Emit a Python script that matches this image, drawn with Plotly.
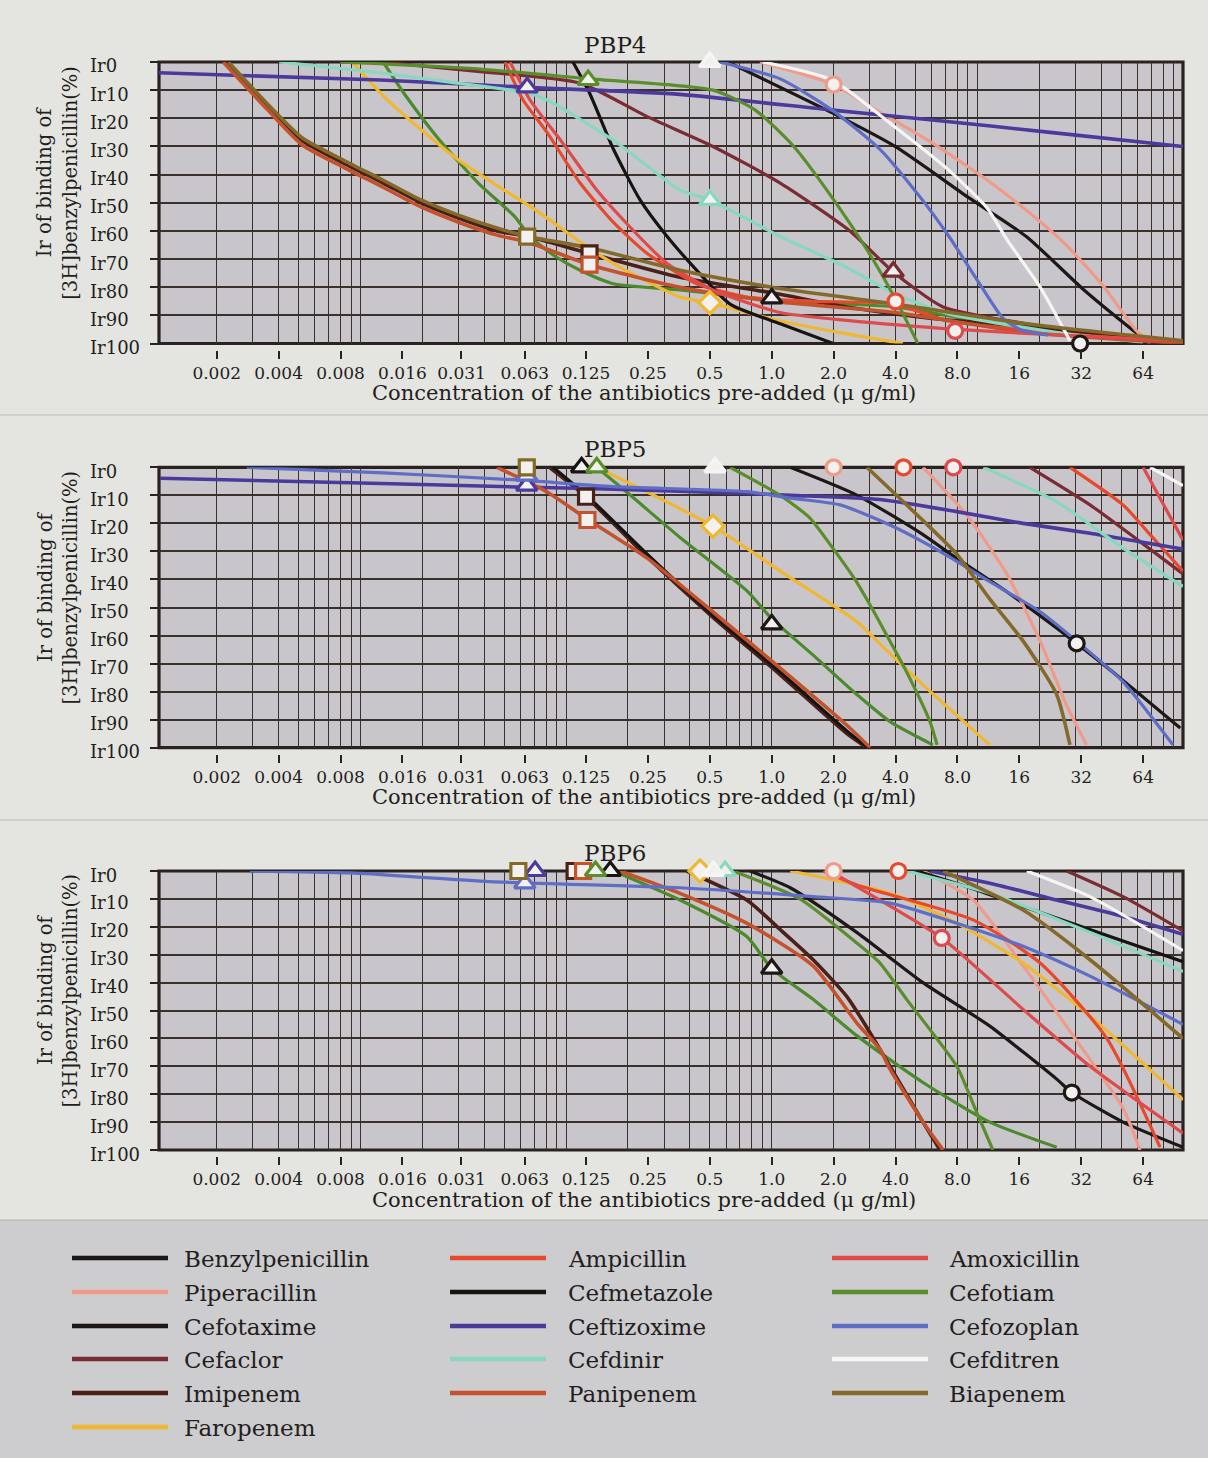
import math
import plotly.graph_objects as go

FIG_W, FIG_H = 1208, 1458
FONT = "DejaVu Serif"
TEXT_COLOR = "#231e1d"
GRID_COLOR = "#3a302c"

# ---------------- categories / styling keys ----------------
LEGEND_COL1 = ["Benzylpenicillin", "Piperacillin", "Cefotaxime", "Cefaclor", "Imipenem", "Faropenem"]
LEGEND_COL2 = ["Ampicillin", "Cefmetazole", "Ceftizoxime", "Cefdinir", "Panipenem"]
LEGEND_COL3 = ["Amoxicillin", "Cefotiam", "Cefozoplan", "Cefditren", "Biapenem"]

COLORS = {
    "Benzylpenicillin": "#1d1817", "Piperacillin": "#f09a8a", "Cefotaxime": "#1d1817",
    "Cefaclor": "#7a2c32", "Imipenem": "#4a2119", "Faropenem": "#f0b830",
    "Ampicillin": "#e8482c", "Cefmetazole": "#161410", "Ceftizoxime": "#4b3a9c",
    "Cefdinir": "#88d8c0", "Panipenem": "#c4522c", "Amoxicillin": "#df4a4c",
    "Cefotiam": "#5a8d2c", "Cefozoplan": "#5e6dc6", "Cefditren": "#f5f5f3",
    "Biapenem": "#846a2a",
}
# colour of the printed curve where it differs from the legend swatch
CURVE_COLORS = dict(COLORS, Cefotaxime="#4d8a2e")

SYMBOLS = {
    "Benzylpenicillin": "circle", "Piperacillin": "circle", "Ampicillin": "circle", "Amoxicillin": "circle",
    "Cefotaxime": "triangle-up", "Cefaclor": "triangle-up", "Cefmetazole": "triangle-up",
    "Ceftizoxime": "triangle-up", "Cefdinir": "triangle-up", "Cefotiam": "triangle-up",
    "Cefozoplan": "triangle-up", "Cefditren": "triangle-up",
    "Imipenem": "square", "Panipenem": "square", "Biapenem": "square", "Faropenem": "diamond",
}
SYMBOL_SIZE = {"circle": 15, "triangle-up": 18, "square": 15, "diamond": 17}

X_TICK_VALUES = [0.002, 0.004, 0.008, 0.016, 0.031, 0.063, 0.125, 0.25, 0.5, 1.0, 2.0, 4.0, 8.0, 16, 32, 64]
X_TICK_LABELS = ["0.002", "0.004", "0.008", "0.016", "0.031", "0.063", "0.125", "0.25", "0.5",
                 "1.0", "2.0", "4.0", "8.0", "16", "32", "64"]
Y_TICK_VALUES = [0, 10, 20, 30, 40, 50, 60, 70, 80, 90, 100]
Y_TICK_LABELS = ["Ir0", "Ir10", "Ir20", "Ir30", "Ir40", "Ir50", "Ir60", "Ir70", "Ir80", "Ir90", "Ir100"]
X_RANGE = [0.001048, 100.0]

# ---------------- PBP4 ----------------
PBP4_CONC = {
    "Benzylpenicillin": [0.613, 1.96, 3.98, 9.0, 17.3, 33.0, 61.1, 69.2],
    "Piperacillin": [0.877, 2.0, 3.04, 5.82, 11.2, 17.3, 26.7, 41.4, 58.5, 69.2],
    "Cefotaxime": [0.0129, 0.0166, 0.0244, 0.0374, 0.0564, 0.0668, 0.0884, 0.117, 0.170, 0.358, 1.10, 3.98, 17.3, 100],
    "Cefaclor": [0.0125, 0.0382, 0.117, 0.248, 0.518, 1.10, 2.40, 3.89, 6.81, 17.3, 61.1, 100],
    "Imipenem": [0.00221, 0.00354, 0.00522, 0.00833, 0.0129, 0.0197, 0.0302, 0.0461, 0.0652, 0.130, 0.358, 1.0, 2.32, 5.88, 17.3, 97.9],
    "Faropenem": [0.00911, 0.0129, 0.0197, 0.0302, 0.0464, 0.0713, 0.120, 0.170, 0.358, 0.513, 1.10, 2.32, 4.34],
    "Ampicillin": [0.0505, 0.0618, 0.0808, 0.117, 0.170, 0.248, 0.432, 0.758, 1.59, 3.89, 7.28, 26.7, 100],
    "Cefmetazole": [0.108, 0.130, 0.170, 0.229, 0.310, 0.432, 0.627, 1.10, 1.99],
    "Ceftizoxime": [0.00102, 0.0125, 0.0647, 0.358, 1.92, 5.88, 22.6, 100],
    "Cefdinir": [0.00403, 0.0129, 0.0302, 0.0652, 0.0808, 0.170, 0.358, 0.501, 1.10, 2.32, 3.89, 7.28, 26.7, 64],
    "Panipenem": [0.00215, 0.00354, 0.00522, 0.00833, 0.0129, 0.0197, 0.0302, 0.0461, 0.0652, 0.130, 0.358, 1.0, 3.98, 17.3, 100],
    "Amoxicillin": [0.0534, 0.0668, 0.0967, 0.141, 0.205, 0.310, 0.518, 1.10, 2.32, 7.97, 25.2, 100],
    "Cefotiam": [0.00797, 0.0382, 0.130, 0.518, 0.829, 1.28, 1.96, 3.04, 3.98, 5.14],
    "Cefozoplan": [0.56, 1.10, 1.96, 3.36, 5.27, 7.28, 10.3, 13.3, 16.1, 22.0],
    "Cefditren": [0.907, 1.96, 3.96, 7.28, 11.2, 13.9, 20.2, 28.2],
    "Biapenem": [0.00228, 0.00354, 0.00522, 0.00833, 0.0129, 0.0197, 0.0302, 0.0461, 0.0652, 0.130, 0.358, 1.0, 3.98, 17.3, 100],
}
PBP4_IR = {
    "Benzylpenicillin": [0, 18, 30, 48, 62, 81, 97, 100],
    "Piperacillin": [0, 8, 16, 28, 42, 52.7, 64.6, 80, 95, 100],
    "Cefotaxime": [0, 12, 28, 43, 55, 62, 69, 74, 78.8, 81, 84.8, 87, 95, 100],
    "Cefaclor": [0, 3.4, 7.5, 19.4, 30, 43, 60, 74.5, 87, 93, 99, 100],
    "Imipenem": [0, 16, 28, 36, 43, 50, 55.5, 60, 62, 68, 76.5, 82, 87, 91, 94, 99.6],
    "Faropenem": [0, 12, 24, 35, 44, 52.6, 64.5, 71.6, 83.5, 85.8, 92, 96.6, 100],
    "Ampicillin": [0, 13.5, 25, 43, 57, 68, 78.8, 83.5, 85, 85.9, 92, 96.5, 100],
    "Cefmetazole": [0, 11, 31, 49, 62, 74, 86, 93, 100],
    "Ceftizoxime": [3.8, 6.4, 9, 11.5, 17, 20.5, 25, 30],
    "Cefdinir": [0, 4, 7.6, 11, 13.5, 27.8, 45.5, 49, 62, 73, 82, 89.5, 96.5, 99.5],
    "Panipenem": [0, 17, 29.5, 37.5, 44.5, 51.5, 57, 61.5, 64, 72, 80, 85, 89, 96, 100],
    "Amoxicillin": [0, 13.5, 29, 45.5, 58.7, 71.6, 81, 89, 91.8, 95, 97, 99],
    "Cefotiam": [0, 2.5, 6, 10, 17, 30, 48, 69, 84, 100],
    "Cefozoplan": [0, 6, 17, 31, 48, 62, 79, 91, 95, 97],
    "Cefditren": [0, 6.4, 23, 38.5, 52, 63, 80, 99],
    "Biapenem": [0, 15, 27, 35, 42, 49, 54.5, 59, 62, 66, 74, 80, 86, 93, 99],
}
PBP4_MARK_CONC = {
    "Benzylpenicillin": 31.6, "Piperacillin": 2.0, "Cefotaxime": 1.0, "Cefaclor": 3.9, "Imipenem": 0.13,
    "Faropenem": 0.5, "Ampicillin": 4.0, "Cefmetazole": 0.126, "Ceftizoxime": 0.0647, "Cefdinir": 0.501,
    "Panipenem": 0.13, "Amoxicillin": 7.8, "Cefotiam": 0.128, "Cefozoplan": 0.062, "Cefditren": 0.5,
    "Biapenem": 0.0647,
}
PBP4_MARK_IR = {
    "Benzylpenicillin": 100, "Piperacillin": 8, "Cefotaxime": 84, "Cefaclor": 74.5, "Imipenem": 68,
    "Faropenem": 85.5, "Ampicillin": 85, "Cefmetazole": -0.5, "Ceftizoxime": 9, "Cefdinir": 49,
    "Panipenem": 72, "Amoxicillin": 95.5, "Cefotiam": 6.4, "Cefozoplan": -0.5, "Cefditren": 0,
    "Biapenem": 62,
}

# ---------------- PBP5 ----------------
PBP5_CONC = {
    "Benzylpenicillin": [1.23, 2.59, 5.44, 7.94, 13.9, 30.4, 51.1, 97],
    "Piperacillin": [5.44, 8.88, 13.9, 20.2, 27.2, 34.0],
    "Cefotaxime": [0.141, 0.205, 0.358, 0.756, 1.0, 1.59, 2.59, 3.76, 6.08],
    "Cefaclor": [18.0, 35.3, 61.8, 100],
    "Imipenem": [0.0830, 0.125, 0.248, 0.518, 1.10, 2.32, 2.90],
    "Faropenem": [0.141, 0.248, 0.518, 1.10, 2.59, 3.36, 5.44, 11.5],
    "Ampicillin": [28.2, 51.1, 69.2, 100],
    "Cefmetazole": [0.0865, 0.130, 0.248, 0.518, 1.10, 2.32, 2.94],
    "Ceftizoxime": [0.00106, 0.00893, 0.0575, 0.170, 0.758, 1.23, 3.36, 7.94, 16.7, 35.3, 100],
    "Cefdinir": [10.7, 24.3, 51.1, 100],
    "Panipenem": [0.0461, 0.0808, 0.127, 0.248, 0.518, 1.10, 2.32, 3.01],
    "Amoxicillin": [64.0, 100],
    "Cefotiam": [0.627, 1.10, 1.53, 1.99, 2.54, 3.11, 3.76, 4.53, 5.88, 6.37],
    "Cefozoplan": [0.00280, 0.0129, 0.0575, 0.170, 0.758, 1.23, 2.15, 3.76, 6.58, 11.5, 20.2, 30.4, 51.1, 89.4],
    "Cefditren": [69.2, 100],
    "Biapenem": [2.90, 5.44, 7.94, 11.5, 16.7, 24.3, 28.2],
}
PBP5_IR = {
    "Benzylpenicillin": [0, 9.9, 24, 32.5, 44.4, 62.8, 76, 93],
    "Piperacillin": [0, 17, 38, 62, 85, 99],
    "Cefotaxime": [0, 9.9, 25, 44, 54, 67, 81, 90.7, 99],
    "Cefaclor": [0, 13.4, 26.5, 38],
    "Imipenem": [0, 10.5, 32, 53.5, 74, 95, 100],
    "Faropenem": [0, 8.8, 21, 37, 55, 63, 77.6, 99],
    "Ampicillin": [0, 13.4, 24, 37],
    "Cefmetazole": [0, 11, 31, 52.7, 73, 94, 100],
    "Ceftizoxime": [3.9, 5.5, 7, 7.8, 9.3, 10, 11.5, 15.8, 20, 23.5, 29.2],
    "Cefdinir": [0, 12.3, 28.8, 42.5],
    "Panipenem": [0, 8.8, 18.5, 32.4, 51.6, 71.6, 92, 100],
    "Amoxicillin": [0, 26],
    "Cefotiam": [0, 10, 18, 29, 40, 51, 62, 73, 90.7, 99],
    "Cefozoplan": [0, 2, 4.5, 6.9, 8.7, 11, 13.4, 20.6, 30, 40.8, 51.5, 62, 76.5, 99],
    "Cefditren": [0, 6.5],
    "Biapenem": [0, 19, 31, 47, 62, 81, 99],
}
PBP5_MARK_CONC = {
    "Benzylpenicillin": 30.4, "Piperacillin": 2.0, "Cefotaxime": 1.0, "Cefaclor": 3.63, "Imipenem": 0.125,
    "Faropenem": 0.518, "Ampicillin": 4.37, "Cefmetazole": 0.119, "Ceftizoxime": 0.0644, "Cefdinir": 0.448,
    "Panipenem": 0.127, "Amoxicillin": 7.64, "Cefotiam": 0.141, "Cefozoplan": 0.0644, "Cefditren": 0.53,
    "Biapenem": 0.0644,
}
PBP5_MARK_IR = {
    "Benzylpenicillin": 62.8, "Piperacillin": 0, "Cefotaxime": 56, "Cefaclor": -1, "Imipenem": 10.5,
    "Faropenem": 21, "Ampicillin": 0, "Cefmetazole": 0, "Ceftizoxime": 6.5, "Cefdinir": -1,
    "Panipenem": 18.8, "Amoxicillin": 0, "Cefotiam": 0, "Cefozoplan": 3, "Cefditren": 0,
    "Biapenem": 0,
}

# ---------------- PBP6 ----------------
PBP6_CONC = {
    "Benzylpenicillin": [0.784, 1.23, 2.59, 5.44, 11.5, 24.3, 28.8, 51.1, 100],
    "Piperacillin": [5.44, 9.53, 16.7, 29.2, 51.1, 61.8],
    "Cefotaxime": [0.170, 0.358, 0.756, 1.0, 1.59, 2.59, 5.44, 11.5, 24.3],
    "Cefaclor": [27.2, 51.1, 100],
    "Imipenem": [0.386, 0.756, 1.10, 1.59, 2.32, 3.01, 3.76, 5.44, 6.58],
    "Faropenem": [1.23, 3.76, 7.94, 16.7, 35.3, 100],
    "Ampicillin": [1.78, 2.59, 9.53, 20.2, 42.6, 77.3],
    "Cefmetazole": [5.07, 9.2, 16.7, 100],
    "Ceftizoxime": [5.88, 11.5, 24.3, 51.1, 100],
    "Cefdinir": [4.53, 11.5, 35.3, 100],
    "Panipenem": [0.183, 0.358, 0.756, 1.59, 2.59, 3.36, 3.76, 5.44, 6.81],
    "Amoxicillin": [1.92, 2.59, 6.71, 16.7, 35.3, 100],
    "Cefotiam": [0.648, 1.37, 2.59, 3.36, 4.53, 7.94, 9.73, 11.9],
    "Cefozoplan": [0.00290, 0.00893, 0.0427, 0.358, 1.59, 3.76, 7.94, 16.7, 35.3, 100],
    "Cefditren": [17.4, 35.3, 100],
    "Biapenem": [6.81, 16.7, 35.3, 100],
}
PBP6_IR = {
    "Benzylpenicillin": [0, 6, 22, 40, 55.6, 74.6, 79.4, 90, 99],
    "Piperacillin": [0, 10.4, 34, 59, 85, 100],
    "Cefotaxime": [0, 10.4, 23.5, 35, 46, 59, 75.8, 90, 99],
    "Cefaclor": [0, 9.2, 21.5],
    "Imipenem": [0, 10.4, 21, 31.8, 45, 58, 70, 90, 100],
    "Faropenem": [0, 8, 18.7, 33, 52, 82],
    "Ampicillin": [0, 5, 17.5, 33, 60, 99],
    "Cefmetazole": [0, 6, 12.7, 32.5],
    "Ceftizoxime": [0, 4.4, 10.4, 16.3, 22.7],
    "Cefdinir": [0, 8, 22, 36],
    "Panipenem": [0, 8, 18.7, 34, 54.4, 64, 71, 90, 100],
    "Amoxicillin": [0, 5.6, 24, 49.6, 70, 94],
    "Cefotiam": [0, 10, 25.8, 33, 46, 70, 85, 100],
    "Cefozoplan": [0, 0.7, 3.8, 6, 9.2, 11.5, 18.7, 27, 37.7, 55],
    "Cefditren": [0, 9.2, 28.5],
    "Biapenem": [0, 14, 31.8, 60],
}
PBP6_MARK_CONC = {
    "Benzylpenicillin": 28.8, "Piperacillin": 2.0, "Cefotaxime": 1.0, "Cefaclor": 3.56, "Imipenem": 0.110,
    "Faropenem": 0.448, "Ampicillin": 4.13, "Cefmetazole": 0.164, "Ceftizoxime": 0.0707, "Cefdinir": 0.593,
    "Panipenem": 0.121, "Amoxicillin": 6.71, "Cefotiam": 0.139, "Cefozoplan": 0.063, "Cefditren": 0.52,
    "Biapenem": 0.0586,
}
PBP6_MARK_IR = {
    "Benzylpenicillin": 79.4, "Piperacillin": 0, "Cefotaxime": 35, "Cefaclor": -1, "Imipenem": 0,
    "Faropenem": 0, "Ampicillin": 0, "Cefmetazole": 0, "Ceftizoxime": 0, "Cefdinir": 0,
    "Panipenem": 0, "Amoxicillin": 24, "Cefotiam": 0, "Cefozoplan": 4.4, "Cefditren": 0,
    "Biapenem": 0,
}

PANELS = [
    ("PBP4", PBP4_CONC, PBP4_IR, PBP4_MARK_CONC, PBP4_MARK_IR),
    ("PBP5", PBP5_CONC, PBP5_IR, PBP5_MARK_CONC, PBP5_MARK_IR),
    ("PBP6", PBP6_CONC, PBP6_IR, PBP6_MARK_CONC, PBP6_MARK_IR),
]

# ---------------- layout geometry (pixels) ----------------
PLOT_LEFT, PLOT_RIGHT = 159, 1183
PANEL_PX = [(62, 343.5), (467.3, 747.7), (871, 1150)]  # (Ir0 y, Ir100 y)
TITLE_Y = [45, 449, 853]
XTITLE_Y = [393, 797, 1200]

# log-paper grid: 1, 1.5, ... 5 per decade starting at 0.002
GRID_X = []
for j in range(-1, 5):
    for m in [1, 1.5, 2, 2.5, 3, 3.5, 4, 4.5, 5]:
        v = 0.002 * (10 ** j) * m
        if X_RANGE[0] * 1.01 < v < X_RANGE[1] * 0.99:
            GRID_X.append(v)


def py(px):
    return 1 - px / FIG_H


def pxx(px):
    return px / FIG_W


fig = go.Figure()
layout = dict(
    width=FIG_W, height=FIG_H, margin=dict(l=0, r=0, t=0, b=0),
    paper_bgcolor="#e4e5e0", plot_bgcolor="#c9c6cb", showlegend=False,
    font=dict(family=FONT, color=TEXT_COLOR),
)
shapes = []
annotations = []

# background bands and separators
shapes.append(dict(type="rect", xref="paper", yref="paper", x0=0, x1=1, y0=0, y1=py(1220),
                   fillcolor="#cdccce", line=dict(width=0), layer="below"))
for sep in [415, 820]:
    shapes.append(dict(type="line", xref="paper", yref="paper", x0=0, x1=1, y0=py(sep), y1=py(sep),
                       line=dict(color="#bcbcb8", width=1), layer="below"))
shapes.append(dict(type="line", xref="paper", yref="paper", x0=0, x1=1, y0=py(1220), y1=py(1220),
                   line=dict(color="#b4b3b5", width=1), layer="below"))

for i, (title, conc, ir, mconc, mir) in enumerate(PANELS):
    k = "" if i == 0 else str(i + 1)
    xref, yref = "x" + k, "y" + k
    top, bot = PANEL_PX[i]
    layout["xaxis" + k] = dict(
        type="log", range=[math.log10(X_RANGE[0]), math.log10(X_RANGE[1])],
        domain=[pxx(PLOT_LEFT), pxx(PLOT_RIGHT)], anchor="free", position=py(bot + 6),
        showline=False, zeroline=False, showgrid=False,
        ticks="outside", ticklen=8, tickwidth=2, tickcolor="#2a2220",
        tickmode="array", tickvals=X_TICK_VALUES, ticktext=X_TICK_LABELS,
        tickfont=dict(family=FONT, size=17, color=TEXT_COLOR),
        minor=dict(tickmode="array", tickvals=GRID_X, showgrid=True, gridcolor=GRID_COLOR,
                   gridwidth=1.2, ticks=""),
        fixedrange=True,
    )
    layout["yaxis" + k] = dict(
        range=[100, 0], domain=[py(bot), py(top)], anchor=xref,
        showline=False, zeroline=False, showgrid=True, gridcolor=GRID_COLOR, gridwidth=1.6,
        tickmode="array", tickvals=Y_TICK_VALUES, showticklabels=False,
        ticks="outside", ticklen=8, tickwidth=2, tickcolor="#2a2220", fixedrange=True,
    )
    # frame (drawn under the traces so the markers sit on top of it)
    shapes.append(dict(type="rect", xref=xref + " domain", yref=yref + " domain", x0=0, x1=1, y0=0, y1=1,
                       line=dict(color="#2a2220", width=3.2), layer="below"))
    # y tick labels (left aligned like the original)
    for v, lab in zip(Y_TICK_VALUES, Y_TICK_LABELS):
        annotations.append(dict(text=lab, xref="paper", yref=yref, x=pxx(88), y=v, xanchor="left",
                                yanchor="middle", yshift=-4, showarrow=False,
                                font=dict(family=FONT, size=18, color=TEXT_COLOR)))
    # titles
    annotations.append(dict(text=title, xref="paper", yref="paper", x=pxx(615), y=py(TITLE_Y[i]),
                            xanchor="center", yanchor="middle", showarrow=False,
                            font=dict(family=FONT, size=23, color=TEXT_COLOR)))
    annotations.append(dict(text="Concentration of the antibiotics pre-added (\u03bc g/ml)",
                            xref="paper", yref="paper", x=pxx(644), y=py(XTITLE_Y[i]),
                            xanchor="center", yanchor="middle", showarrow=False,
                            font=dict(family=FONT, size=21, color=TEXT_COLOR)))
    annotations.append(dict(text="Ir of binding of<br>[3H]benzylpenicillin(%)", textangle=-90,
                            xref="paper", yref="paper", x=pxx(57), y=py((top + bot) / 2 - 20),
                            xanchor="center", yanchor="middle", showarrow=False,
                            font=dict(family=FONT, size=19.5, color=TEXT_COLOR)))

    # curves
    for name in conc:
        width = 3.6 if name in ("Imipenem", "Panipenem", "Biapenem", "Ceftizoxime") else 3.2
        fig.add_trace(go.Scatter(
            x=conc[name], y=ir[name], mode="lines", name=name, xaxis=xref, yaxis=yref,
            line=dict(color=CURVE_COLORS[name], width=width, shape="spline", smoothing=0.6),
            hoverinfo="skip",
        ))
    # markers
    for name in mconc:
        sym = SYMBOLS[name]
        fig.add_trace(go.Scatter(
            x=[mconc[name]], y=[mir[name]], mode="markers", name=name, xaxis=xref, yaxis=yref,
            cliponaxis=False,
            marker=dict(symbol=sym, size=SYMBOL_SIZE[sym],
                        color="#f3f0f0", line=dict(color=COLORS[name], width=3.2)),
            hoverinfo="skip",
        ))

# manual legend (3 columns, column-major order)
LEG_ROWS = [1258, 1292, 1326, 1359, 1393, 1427]
LEG_COLS = [(72, 168, 182, LEGEND_COL1), (450, 546, 566, LEGEND_COL2), (832, 928, 947, LEGEND_COL3)]
for x0, x1, xt, names in LEG_COLS:
    for r, name in enumerate(names):
        yy = py(LEG_ROWS[r])
        shapes.append(dict(type="line", xref="paper", yref="paper", x0=pxx(x0), x1=pxx(x1), y0=yy, y1=yy,
                           line=dict(color=COLORS[name], width=4.5), layer="above"))
        annotations.append(dict(text=name, xref="paper", yref="paper", x=pxx(xt), y=yy, yshift=-1,
                                xanchor="left", yanchor="middle", showarrow=False,
                                font=dict(family=FONT, size=23, color=TEXT_COLOR)))

layout["shapes"] = shapes
layout["annotations"] = annotations
fig.update_layout(**layout)
fig.write_html("out.html")
